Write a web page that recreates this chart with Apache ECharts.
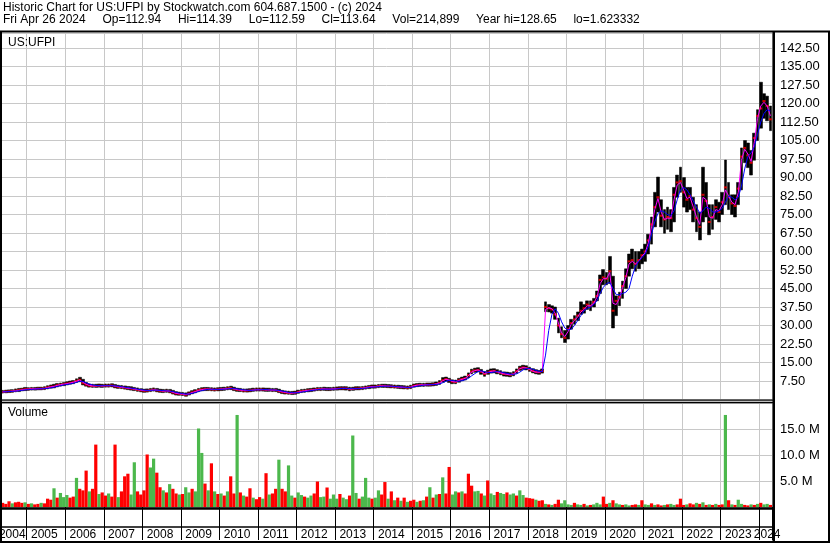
<!DOCTYPE html>
<html><head><meta charset="utf-8">
<script src="https://cdn.jsdelivr.net/npm/echarts@6.0.0/dist/echarts.min.js"></script>
<style>html,body{margin:0;padding:0;background:#fff}#c{width:830px;height:543px}</style>
</head><body><div id="c"></div>
<script>
// ---------- texts ----------
const headerLine1 = 'Historic Chart for US:UFPI by Stockwatch.com 604.687.1500 - (c) 2024';
const headerLine2 = 'Fri Apr 26 2024     Op=112.94     Hi=114.39     Lo=112.59     Cl=113.64     Vol=214,899     Year hi=128.65     lo=1.623332';
const symbolLabel = 'US:UFPI';
const volumeLabel = 'Volume';

// ---------- time span (monthly categories) ----------
const firstMonth = [2004, 5];
const lastMonth = [2024, 4];

// ---------- axis ticks ----------
const priceAxisMax = 148.6, priceStep = 7.5;
const volumeAxisMax = 20, volumeStep = 5;   // millions

// ---------- monthly price data ----------
const close = [
 3.1,3.2,3.3,3.4,3.6,3.8,4.0,4.2,
 4.2,4.3,4.3,4.4,4.4,4.5,4.9,5.2,5.3,5.8,6.0,6.2,
 6.5,6.8,7.0,7.6,8.0,6.6,6.0,5.6,5.5,5.5,5.6,5.5,
 5.6,5.6,5.7,5.3,5.1,5.0,4.8,4.6,4.4,4.2,3.9,3.7,
 3.5,3.6,3.8,4.0,3.7,3.5,3.4,3.5,3.3,2.8,2.4,2.3,
 2.2,1.9,2.4,2.9,3.3,3.8,4.1,4.2,4.2,4.1,4.0,4.1,
 4.2,4.3,4.5,4.6,4.2,3.9,3.8,3.6,3.6,3.7,3.9,4.0,
 4.0,4.0,3.9,3.9,3.8,3.8,3.4,3.0,2.8,2.7,2.6,2.7,
 3.1,3.4,3.5,3.7,3.8,4.0,4.2,4.2,4.3,4.2,4.2,4.3,
 4.4,4.5,4.5,4.5,4.2,4.3,4.5,4.5,4.6,4.8,5.0,5.2,
 5.2,5.4,5.5,5.5,5.4,5.3,5.2,5.1,5.0,4.9,4.8,5.0,
 5.6,5.8,5.9,5.9,6.0,6.0,6.1,6.3,6.8,7.8,8.3,7.8,
 7.2,7.1,7.8,8.3,8.6,9.8,11.4,11.8,12.0,11.2,10.3,11.0,
 11.5,11.6,11.2,10.8,10.3,10.2,10.0,10.4,11.5,12.6,13.0,12.8,
 12.2,11.6,11.2,11.0,11.5,37.5,37.0,36.5,34.5,30.0,26.5,25.0,
 28.5,31.0,32.5,34.0,36.0,37.0,38.5,38.0,39.5,42.0,48.5,49.5,
 49.0,52.0,36.0,40.0,41.5,46.0,50.0,56.0,56.5,55.0,56.5,58.5,
 60.0,64.5,71.0,78.0,82.0,74.5,73.0,74.0,73.5,83.0,88.0,88.5,
 84.0,81.0,82.5,77.0,73.5,70.0,83.0,80.5,72.0,74.0,78.0,76.0,
 80.0,86.0,82.0,79.5,78.5,85.5,98.5,102.0,99.0,96.0,106.0,115.0,
 118.0,121.0,119.0,113.6
];
const high = [
 3.7,3.8,3.9,4.0,4.3,4.5,4.6,4.9,
 4.8,4.9,4.9,5.0,5.0,5.2,5.6,5.9,6.2,6.5,6.7,6.9,
 7.2,7.5,7.7,8.4,9.0,8.2,6.9,6.3,6.2,6.2,6.3,6.2,
 6.3,6.3,6.4,6.1,5.8,5.7,5.5,5.3,5.2,4.9,4.7,4.4,
 4.2,4.3,4.5,4.7,4.5,4.2,4.1,4.2,4.1,3.7,3.2,3.0,
 2.9,2.7,3.1,3.6,4.0,4.5,4.8,4.9,4.9,4.8,4.7,4.8,
 4.9,5.0,5.2,5.4,5.0,4.6,4.5,4.3,4.3,4.4,4.6,4.7,
 4.7,4.7,4.6,4.6,4.5,4.5,4.2,3.7,3.5,3.4,3.3,3.4,
 3.8,4.1,4.2,4.4,4.5,4.7,4.9,4.9,5.0,4.9,4.9,5.0,
 5.1,5.2,5.2,5.2,5.0,5.0,5.2,5.2,5.3,5.5,5.7,5.9,
 5.9,6.1,6.2,6.2,6.1,6.0,5.9,5.8,5.7,5.6,5.5,5.8,
 6.3,6.5,6.6,6.6,6.7,6.7,6.8,7.1,7.7,8.9,9.1,8.6,
 8.0,7.9,8.6,9.1,9.5,10.8,12.3,12.7,12.9,12.2,11.3,11.9,
 12.4,12.5,12.1,11.7,11.2,11.1,10.9,11.3,12.4,13.5,13.9,13.7,
 13.1,12.5,12.1,11.8,12.4,39.6,38.5,38.0,37.5,33.0,29.5,28.0,
 30.0,32.5,34.0,35.5,39.6,38.5,40.0,40.0,41.0,44.0,50.5,52.7,
 51.5,58.0,50.0,42.0,43.5,48.0,53.0,59.0,61.0,60.0,60.0,61.0,
 63.0,67.0,74.0,84.0,90.2,81.0,77.0,78.0,77.0,86.0,91.0,94.2,
 90.0,86.0,86.0,82.0,79.0,76.0,94.2,88.0,79.0,79.0,81.0,80.0,
 84.0,97.1,88.0,83.0,83.0,88.0,102.0,105.0,104.0,101.0,108.0,117.5,
 128.65,124.0,123.0,119.0
];
const low = [
 2.6,2.7,2.8,2.9,3.1,3.2,3.5,3.6,
 3.7,3.8,3.8,3.9,3.9,4.0,4.3,4.6,4.7,5.1,5.4,5.6,
 5.9,6.2,6.4,6.9,7.2,5.9,5.4,5.0,4.9,4.9,5.0,4.9,
 5.0,5.0,5.1,4.7,4.5,4.4,4.2,4.0,3.8,3.6,3.3,3.1,
 2.9,3.0,3.2,3.4,3.1,2.9,2.8,2.9,2.7,2.2,1.8,1.7,
 1.6,1.3,1.8,2.3,2.7,3.2,3.5,3.6,3.6,3.5,3.4,3.5,
 3.6,3.7,3.9,4.0,3.6,3.3,3.2,3.0,3.0,3.1,3.3,3.4,
 3.4,3.4,3.3,3.3,3.2,3.2,2.8,2.4,2.2,2.1,2.0,2.1,
 2.5,2.8,2.9,3.1,3.2,3.4,3.6,3.6,3.7,3.6,3.6,3.7,
 3.8,3.9,3.9,3.8,3.5,3.7,3.9,3.9,4.0,4.2,4.4,4.6,
 4.6,4.8,4.9,4.9,4.8,4.7,4.6,4.5,4.4,4.3,4.2,4.4,
 5.0,5.2,5.3,5.3,5.4,5.4,5.5,5.7,6.1,7.0,7.5,6.9,
 6.4,6.4,7.0,7.6,7.9,8.8,10.4,11.0,11.2,10.2,9.4,10.2,
 10.7,10.8,10.4,10.0,9.5,9.4,9.2,9.6,10.6,11.8,12.2,12.0,
 11.4,10.8,10.4,10.2,10.7,35.6,35.5,35.0,32.5,27.0,25.0,23.1,
 24.5,28.5,30.5,32.0,34.5,35.0,36.5,36.0,37.5,40.0,43.0,46.5,
 46.5,47.0,29.0,34.0,38.0,41.0,45.0,50.0,53.0,52.0,53.0,55.0,
 56.0,59.0,63.0,70.0,76.0,70.0,67.4,69.0,68.0,72.0,82.0,84.0,
 78.0,76.0,77.0,72.0,68.0,64.7,72.0,74.0,66.8,69.0,73.0,72.0,
 75.0,79.0,77.0,75.0,74.0,79.0,85.0,96.0,94.0,91.0,97.0,105.0,
 110.0,114.0,113.0,109.0
];
// short moving average (magenta)
const maShort = [
 3.1,3.2,3.3,3.4,3.5,3.7,3.9,4.1,
 4.2,4.3,4.3,4.4,4.4,4.5,4.8,5.1,5.3,5.7,6.0,6.2,
 6.4,6.7,7.0,7.4,7.9,7.0,6.2,5.7,5.5,5.5,5.6,5.5,
 5.6,5.6,5.7,5.4,5.2,5.0,4.8,4.6,4.4,4.2,4.0,3.8,
 3.6,3.6,3.7,3.9,3.8,3.6,3.4,3.5,3.4,2.9,2.5,2.3,
 2.2,2.0,2.3,2.8,3.2,3.7,4.0,4.2,4.2,4.1,4.0,4.1,
 4.2,4.3,4.4,4.6,4.3,4.0,3.8,3.7,3.6,3.7,3.8,4.0,
 4.0,4.0,3.9,3.9,3.8,3.8,3.5,3.1,2.9,2.7,2.6,2.7,
 3.0,3.3,3.5,3.7,3.8,4.0,4.1,4.2,4.3,4.2,4.2,4.3,
 4.4,4.5,4.5,4.5,4.3,4.3,4.4,4.5,4.6,4.8,5.0,5.2,
 5.2,5.4,5.5,5.5,5.4,5.3,5.2,5.1,5.0,4.9,4.8,5.0,
 5.5,5.8,5.9,5.9,6.0,6.0,6.1,6.3,6.7,7.6,8.2,7.9,
 7.3,7.1,7.7,8.2,8.6,9.6,11.1,11.7,12.0,11.3,10.5,10.9,
 11.4,11.6,11.2,10.8,10.4,10.2,10.0,10.3,11.3,12.5,12.9,12.8,
 12.2,11.5,11.1,11.1,11.4,36.5,37.2,36.8,35.0,31.0,27.0,25.5,
 27.5,30.5,32.0,33.5,35.5,36.5,38.0,38.0,39.0,41.5,47.0,49.0,
 49.0,51.5,39.0,38.5,41.0,45.5,49.5,55.0,56.0,55.0,56.0,58.0,
 59.5,63.5,70.0,77.0,81.5,76.0,73.0,73.5,73.5,81.0,87.0,88.0,
 85.0,81.5,82.0,78.0,74.0,71.0,82.0,81.0,74.0,73.5,77.0,76.5,
 79.0,85.0,82.5,80.0,79.0,84.0,97.0,101.5,99.5,96.5,104.5,114.0,
 119.0,120.5,119.0,115.0
];
// long moving average (blue)
const maLong = [
 3.1,3.1,3.2,3.3,3.4,3.5,3.7,3.9,
 4.0,4.1,4.2,4.3,4.3,4.4,4.5,4.7,5.0,5.3,5.6,5.9,
 6.1,6.3,6.6,6.9,7.4,7.3,6.8,6.3,5.9,5.7,5.6,5.6,
 5.6,5.6,5.6,5.5,5.4,5.2,5.0,4.8,4.6,4.4,4.2,4.0,
 3.8,3.7,3.7,3.8,3.8,3.7,3.6,3.5,3.4,3.2,2.9,2.6,
 2.4,2.2,2.2,2.5,2.8,3.2,3.6,3.9,4.1,4.2,4.1,4.1,
 4.1,4.2,4.3,4.4,4.4,4.3,4.1,3.9,3.8,3.7,3.8,3.9,
 3.9,4.0,4.0,3.9,3.9,3.8,3.7,3.4,3.2,2.9,2.8,2.7,
 2.8,3.0,3.2,3.4,3.6,3.8,4.0,4.1,4.2,4.2,4.2,4.2,
 4.3,4.4,4.5,4.5,4.4,4.4,4.4,4.4,4.5,4.6,4.8,5.0,
 5.1,5.2,5.3,5.4,5.4,5.4,5.3,5.2,5.1,5.0,4.9,4.9,
 5.1,5.4,5.6,5.8,5.9,6.0,6.0,6.1,6.3,6.8,7.4,7.8,
 7.7,7.5,7.4,7.6,8.0,8.6,9.6,10.5,11.3,11.6,11.3,11.0,
 10.9,11.1,11.3,11.2,10.9,10.6,10.3,10.2,10.4,11.1,12.0,12.6,
 12.6,12.3,11.8,11.4,11.3,18.0,28.0,34.5,36.8,35.0,31.5,29.0,
 28.2,28.5,30.0,32.0,34.0,36.0,37.0,37.5,38.5,40.0,43.0,45.5,
 47.0,47.5,45.0,42.5,42.5,43.0,43.5,45.0,50.0,54.0,56.0,57.5,
 59.0,62.0,67.0,72.0,75.5,76.5,76.0,75.0,74.5,76.5,81.0,85.0,
 86.0,85.0,83.0,80.5,78.0,75.5,76.5,78.0,77.5,76.0,76.0,76.5,
 77.5,80.0,82.5,82.0,81.0,82.0,86.5,93.5,98.5,100.0,102.5,107.5,
 112.5,116.0,117.5,117.0
];
// monthly volume peak, millions of shares
const volume = [
 0.8,0.6,1.1,0.7,0.9,1.0,0.8,0.9,
 0.6,0.7,0.5,0.6,0.8,0.7,1.6,1.4,3.6,1.8,2.7,1.9,
 2.3,1.8,2.0,5.6,3.5,3.2,7.0,3.0,3.5,12.0,2.5,2.8,
 2.2,2.6,2.0,12.0,1.9,3.0,5.9,6.4,2.4,8.6,3.0,2.4,
 3.2,10.1,7.6,9.3,6.6,3.8,3.2,2.8,4.4,3.5,2.6,2.4,
 2.5,3.8,2.8,3.5,3.0,15.1,10.4,4.5,3.2,8.4,3.0,2.5,
 2.6,2.2,3.0,5.9,2.6,17.7,2.8,2.2,2.0,3.6,1.8,1.5,
 1.9,1.6,6.5,2.4,2.6,3.5,9.1,3.5,3.0,8.0,2.2,1.8,
 2.8,2.3,2.0,1.8,2.2,2.6,4.9,1.9,2.0,3.75,1.6,2.4,
 1.6,2.5,1.8,1.5,2.2,13.75,2.7,1.6,2.0,5.6,1.8,1.6,
 1.8,3.2,2.4,4.8,1.6,3.0,1.3,1.8,1.2,1.8,1.0,1.2,
 1.4,1.0,1.2,1.3,2.0,3.8,1.8,2.4,2.5,5.7,2.6,7.7,
 2.4,3.0,2.8,3.0,2.6,6.4,4.1,3.0,3.1,2.6,2.2,5.1,
 2.6,2.3,2.9,2.7,2.5,2.8,2.4,2.6,2.2,3.2,2.3,1.8,
 1.7,1.6,1.4,1.2,1.3,0.6,0.5,0.4,0.6,1.4,0.7,1.3,
 0.5,0.4,0.8,0.5,0.4,0.6,0.3,0.4,0.5,0.8,0.5,2.0,
 0.6,0.8,1.3,0.7,0.5,0.4,0.5,0.3,0.4,0.5,0.4,1.3,
 0.5,0.4,0.7,0.4,0.5,0.3,0.4,0.5,0.6,0.4,0.5,1.6,
 0.4,0.5,0.7,0.5,0.8,0.6,0.9,0.4,0.5,0.4,0.6,0.4,
 0.5,17.7,1.3,0.5,0.4,1.4,0.6,0.4,0.3,0.5,0.4,0.6,
 0.8,0.5,0.6,0.4
];
// up (u) / down (d) session for each volume bar, per year
const volumeDirection = [
 'ddd udd du',
 'dud dud ddu duu', 'udd udd dud dud', 'dud dud ddu udd', 'ddu udd udu ddu',
 'duu duu udu dud', 'udu ddu dud dud', 'dud udd udd uud', 'uud uud duu duu',
 'udu udu udu uud', 'uud dud udu dud', 'dud udu dud udd', 'uud udd duu dud',
 'uud uud uud uud', 'ddu ddu dud duu', 'uud uud udu uud', 'dud uud uud dud',
 'uud udd udu udd', 'dud dud udu dud', 'dud udu udd udu',
 'duud'
];

// ---------- build ----------
const months = [];
for (let y = firstMonth[0], m = firstMonth[1]; y < lastMonth[0] || (y === lastMonth[0] && m <= lastMonth[1]);) {
  months.push(y + '-' + String(m).padStart(2, '0'));
  m++; if (m > 12) { m = 1; y++; }
}
const dirs = volumeDirection.join('').replace(/\s/g, '').split('');

// range bars: body spans the monthly low..high
const ranges = months.map((mo, i) => [low[i], high[i], low[i], high[i]]);
const GREEN = '#4cb84c', RED = '#ff0000';
const volData = volume.map((v, i) => ({ value: v, itemStyle: { color: dirs[i] === 'u' ? GREEN : RED } }));

const isYearStart = (idx, val) => val.slice(5) === '01';
const isLabelMonth = (idx, val) => {
  const y = +val.slice(0, 4), m = val.slice(5);
  if (y === firstMonth[0]) return m === '08';
  if (y === lastMonth[0]) return m === '03';
  return m === '06';
};

const FONT = 'Arial, "Liberation Sans", sans-serif';
const GRIDC = '#c8c8c8';
const L = 1, R = 58;

const blk = (x, y, w, h) => ({ type: 'rect', shape: { x, y, width: w, height: h }, style: { fill: '#000' }, z: 100, silent: true });

const option = {
  animation: false,
  backgroundColor: '#fff',
  textStyle: { fontFamily: FONT },
  title: [
    { text: headerLine1 + '\n' + headerLine2, left: 3, top: 2, padding: 0,
      textStyle: { fontSize: 12, fontWeight: 'normal', color: '#000', lineHeight: 12, fontFamily: FONT } },
    { text: symbolLabel, left: 8, top: 37, padding: 0,
      textStyle: { fontSize: 12, fontWeight: 'normal', color: '#000', fontFamily: FONT } },
    { text: volumeLabel, left: 8, top: 407, padding: 0,
      textStyle: { fontSize: 12, fontWeight: 'normal', color: '#000', fontFamily: FONT } }
  ],
  grid: [
    { left: L, right: R, top: 33, height: 366.5, containLabel: false, outerBoundsMode: 'none' },
    { left: L, right: R, top: 403, height: 104, containLabel: false, outerBoundsMode: 'none' }
  ],
  xAxis: [
    { type: 'category', gridIndex: 0, data: months, boundaryGap: true,
      axisLine: { show: false }, axisTick: { show: false }, axisLabel: { show: false },
      splitLine: { show: true, interval: isYearStart, lineStyle: { color: GRIDC, width: 1 } } },
    { type: 'category', gridIndex: 1, data: months, boundaryGap: true,
      axisLine: { show: false },
      axisTick: { show: true, interval: isYearStart, length: 33, lineStyle: { color: '#000', width: 1 } },
      axisLabel: { show: true, interval: isLabelMonth, formatter: v => v.slice(0, 4), margin: 22,
        hideOverlap: false, color: '#000', fontSize: 12, fontFamily: FONT },
      splitLine: { show: true, interval: isYearStart, lineStyle: { color: GRIDC, width: 1 } } }
  ],
  yAxis: [
    { type: 'value', gridIndex: 0, position: 'right', min: 0, max: priceAxisMax, interval: priceStep,
      axisLine: { show: false }, axisTick: { show: false },
      axisLabel: { formatter: v => v.toFixed(2), showMinLabel: false, showMaxLabel: false, margin: 8,
        color: '#000', fontSize: 13, fontFamily: FONT },
      splitLine: { show: true, lineStyle: { color: GRIDC, width: 1 } } },
    { type: 'value', gridIndex: 1, position: 'right', min: 0, max: volumeAxisMax, interval: volumeStep,
      axisLine: { show: false }, axisTick: { show: false },
      axisLabel: { formatter: v => v.toFixed(1) + ' M', showMinLabel: false, showMaxLabel: false, margin: 8,
        color: '#000', fontSize: 13, fontFamily: FONT },
      splitLine: { show: true, lineStyle: { color: GRIDC, width: 1 } } }
  ],
  series: [
    { type: 'candlestick', xAxisIndex: 0, yAxisIndex: 0, data: ranges, barWidth: '100%', silent: true,
      itemStyle: { color: '#000', color0: '#000', borderColor: '#000', borderColor0: '#000',
        borderColorDoji: '#000', borderWidth: 0.5 } },
    { type: 'scatter', xAxisIndex: 0, yAxisIndex: 0, data: close, symbol: 'rect', symbolSize: [3, 2],
      itemStyle: { color: '#ff0000' }, silent: true, z: 3 },
    { type: 'line', xAxisIndex: 0, yAxisIndex: 0, data: maShort, symbol: 'none', showSymbol: false,
      lineStyle: { color: '#ff00ff', width: 1 }, itemStyle: { color: '#ff00ff' }, silent: true, z: 4 },
    { type: 'line', xAxisIndex: 0, yAxisIndex: 0, data: maLong, symbol: 'none', showSymbol: false,
      lineStyle: { color: '#0000ff', width: 1 }, itemStyle: { color: '#0000ff' }, silent: true, z: 5 },
    { type: 'bar', xAxisIndex: 1, yAxisIndex: 1, data: volData, barWidth: '100%', silent: true }
  ],
  graphic: [
    blk(0, 30.5, 830, 2),      // under header
    blk(0, 31, 2, 512),        // left border
    blk(828, 31, 2, 512),      // right border
    blk(772.5, 31, 2.5, 512),  // axis column divider
    blk(0, 399.5, 775, 1.2),   // price / volume separator
    blk(0, 401.8, 775, 1.5),
    blk(0, 507.3, 775, 2.5),   // volume / date separator
    blk(0, 526.3, 775, 1.5),   // date rows separator
    blk(0, 541, 830, 2)        // bottom border
  ]
};

const chart = echarts.init(document.getElementById('c'), null, { renderer: 'canvas', width: 830, height: 543 });
chart.setOption(option);
</script>
</body></html>
